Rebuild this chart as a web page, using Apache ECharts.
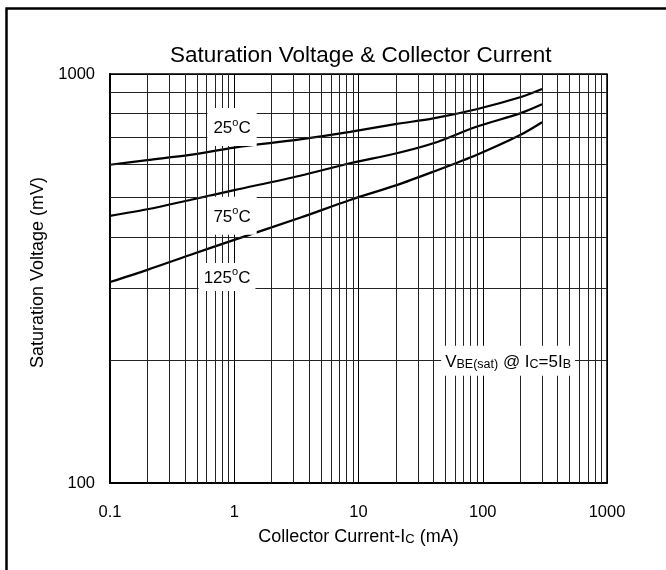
<!DOCTYPE html>
<html>
<head>
<meta charset="utf-8">
<script src="https://cdn.jsdelivr.net/npm/echarts@6/dist/echarts.min.js"></script>
<style>
html,body{margin:0;padding:0;background:#fff;}
#c{width:666px;height:570px;}
</style>
</head>
<body>
<div id="c"></div>
<script>
// Collector current (mA)
var currentMA = [0.1, 0.2, 0.44, 1, 3.38, 8.55, 20.3, 40, 89, 200, 300];
// Saturation voltage (mV)
var vbe25 = [600, 616, 634, 661, 692, 722, 755, 779, 820, 877, 919];
var vbe75 = [450, 467, 492, 520, 564, 605, 640, 677, 743, 801, 843];
var vbe125 = [310, 332, 361, 393, 445, 492, 535, 577, 634, 709, 762];
var seriesNames = ['25°C', '75°C', '125°C'];
// grid lines between decades
var xMinorGrid = [0.2,0.3,0.4,0.5,0.6,0.7,0.8,0.9, 2,3,4,5,6,7,8,9, 20,30,40,50,60,70,80,90, 200,300,400,500,600,700,800,900];
var yMinorGrid = [200,300,400,500,600,700,800,900];
// annotation anchors [current, voltage]
var labelAnchors = [[0.96, 742], [0.96, 450], [0.875, 319], [160, 199]];
var labelTexts = ['{b|25}{sup|o}{b|C}', '{b|75}{sup|o}{b|C}', '{b|125}{sup|o}{b|C}', '{b|V}{s|BE(sat)}{b| @ I}{s|C}{b|=5I}{s|B}'];

var FONT = 'Liberation Sans, Arial, sans-serif';
function pairs(ys){ return currentMA.map(function(x,i){ return [x, ys[i]]; }); }

var richT = {
  sup: {fontSize: 11, fontFamily: FONT, color: '#000', verticalAlign: 'top', lineHeight: 20},
  b: {fontSize: 17, fontFamily: FONT, color: '#000', verticalAlign: 'bottom', lineHeight: 20},
  s: {fontSize: 12.5, fontFamily: FONT, color: '#000', verticalAlign: 'bottom', lineHeight: 19}
};
var labelPads = [[9, 6, 9, 6], [9, 6, 9, 6], [4, 5, 4, 5], [5, 4, 5, 4]];

var chart = echarts.init(document.getElementById('c'), null, {renderer: 'canvas'});
var option = {
  animation: false,
  backgroundColor: '#fff',
  title: {
    text: 'Saturation Voltage & Collector Current',
    left: 165,
    top: 39,
    textStyle: {fontFamily: FONT, fontSize: 22.5, fontWeight: 'normal', color: '#000'}
  },
  graphic: [{
    type: 'polyline',
    shape: {points: [[6.5, 570], [6.5, 8.5], [666, 8.5]]},
    style: {stroke: '#000', lineWidth: 2.5, fill: null}
  }],
  grid: {left: 110, right: 59, top: 74, bottom: 87, show: true, borderColor: '#000', borderWidth: 1.5},
  xAxis: {
    type: 'log', logBase: 10, min: 0.1, max: 1000,
    name: '{b|Collector Current-I}{s|C}{b| (mA)}',
    nameLocation: 'middle', nameGap: 43,
    nameTextStyle: {fontFamily: FONT, fontSize: 18, color: '#000',
      rich: {
        b: {fontFamily: FONT, fontSize: 18, color: '#000', verticalAlign: 'bottom', lineHeight: 20},
        s: {fontFamily: FONT, fontSize: 13, color: '#000', verticalAlign: 'bottom', lineHeight: 19}
      }},
    axisLine: {lineStyle: {color: '#000', width: 2}},
    axisTick: {show: false},
    axisLabel: {fontFamily: FONT, fontSize: 16.5, color: '#000', margin: 21,
      formatter: function(v){ return String(+(+v).toPrecision(6)); }},
    splitLine: {show: true, lineStyle: {color: '#000', width: 1}}
  },
  yAxis: {
    type: 'log', logBase: 10, min: 100, max: 1000,
    name: 'Saturation Voltage (mV)',
    nameLocation: 'middle', nameGap: 53,
    nameTextStyle: {fontFamily: FONT, fontSize: 18, color: '#000', padding: [0, 0, 0, 12]},
    axisLine: {lineStyle: {color: '#000', width: 2}},
    axisTick: {show: false},
    axisLabel: {fontFamily: FONT, fontSize: 16.5, color: '#000', margin: 15,
      formatter: function(v){ return String(+(+v).toPrecision(6)); }},
    splitLine: {show: true, lineStyle: {color: '#000', width: 1}}
  },
  series: [
    {
      type: 'line', data: [], z: 1, silent: true,
      markLine: {
        silent: true, symbol: 'none', label: {show: false},
        lineStyle: {color: '#222', width: 1, type: 'solid'},
        emphasis: {disabled: true},
        data: xMinorGrid.map(function(v){ return {xAxis: v}; })
          .concat(yMinorGrid.map(function(v){ return {yAxis: v}; }))
      }
    },
    {type: 'line', name: seriesNames[0], data: pairs(vbe25), smooth: 0.3, showSymbol: false, z: 3,
     lineStyle: {color: '#000', width: 2.2}},
    {type: 'line', name: seriesNames[1], data: pairs(vbe75), smooth: 0.3, showSymbol: false, z: 3,
     lineStyle: {color: '#000', width: 2.2}},
    {type: 'line', name: seriesNames[2], data: pairs(vbe125), smooth: 0.3, showSymbol: false, z: 3,
     lineStyle: {color: '#000', width: 2.2}},
    {
      type: 'scatter', z: 5, symbolSize: 0, silent: true,
      itemStyle: {opacity: 1},
      data: labelAnchors.map(function(p, i){
        return {value: p, label: {
          show: true, position: 'inside', formatter: labelTexts[i],
          backgroundColor: '#fff', padding: labelPads[i], opacity: 1,
          fontFamily: FONT, fontSize: 17, color: '#000',
          rich: richT
        }};
      })
    }
  ]
};
chart.setOption(option);
</script>
</body>
</html>
